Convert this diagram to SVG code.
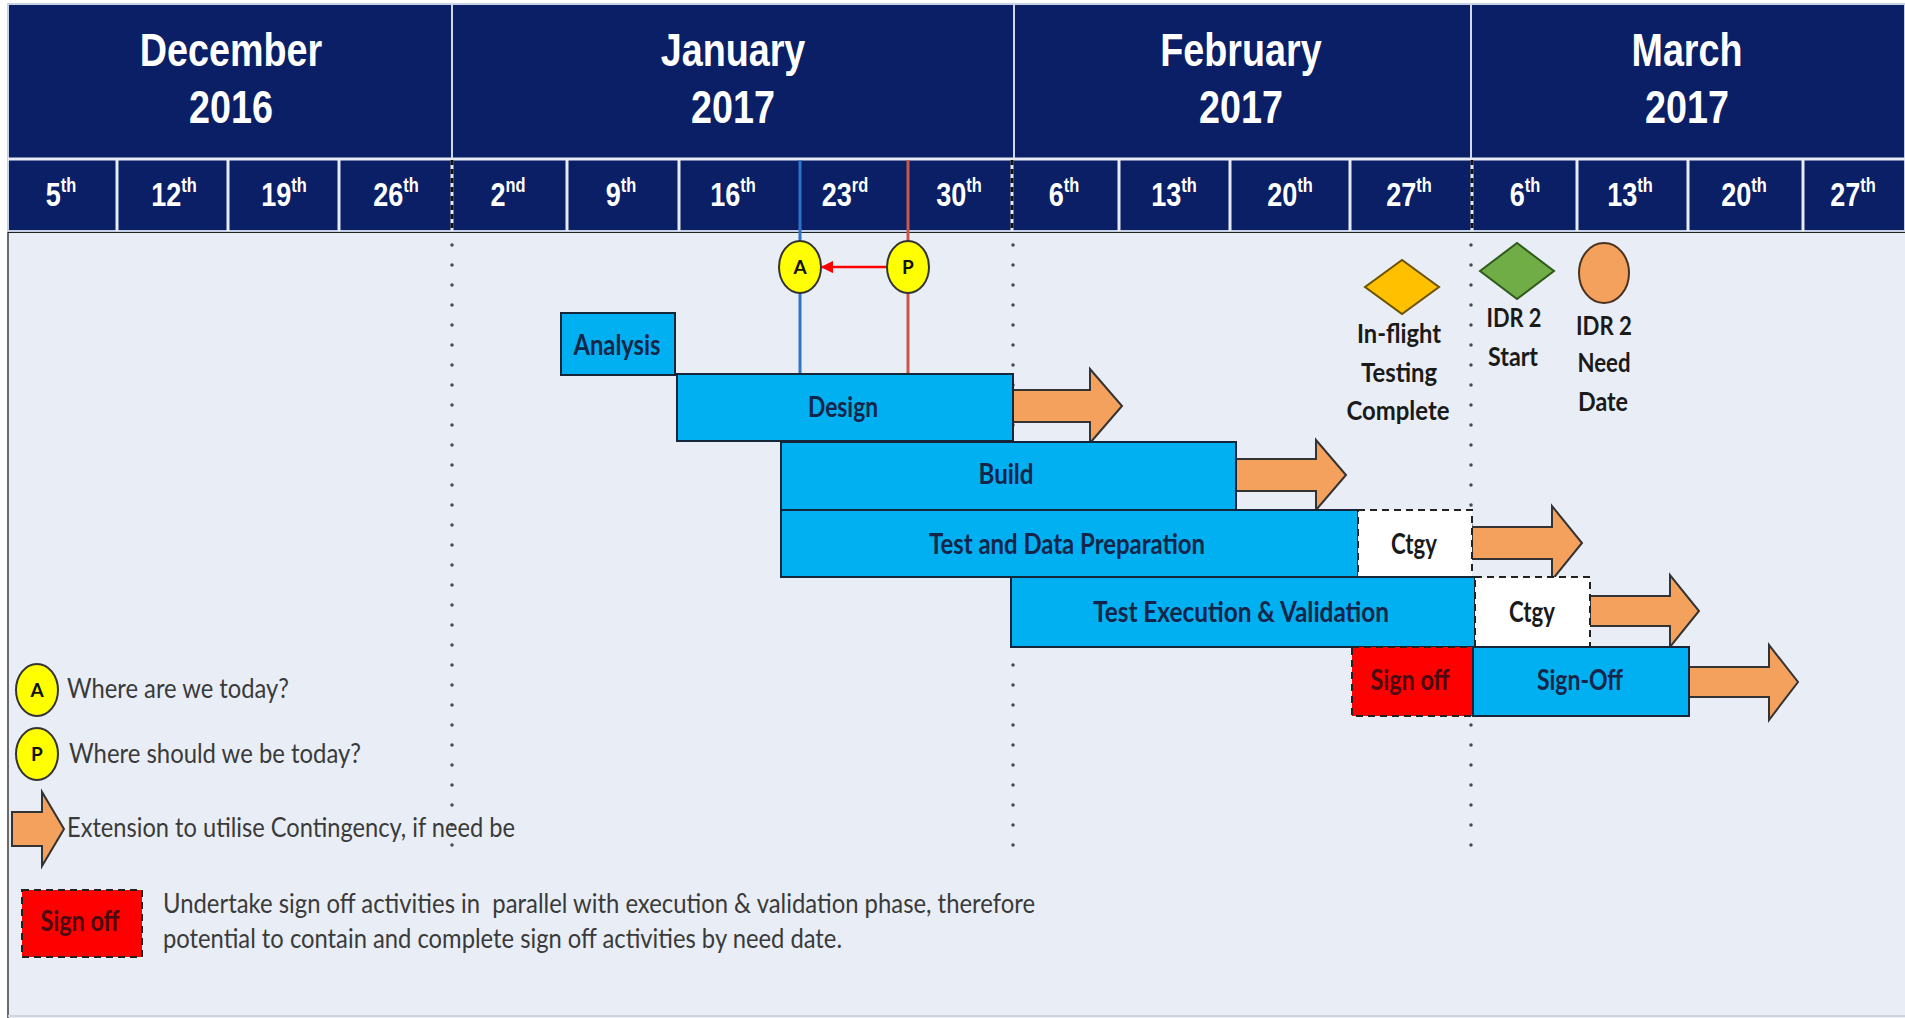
<svg xmlns="http://www.w3.org/2000/svg" width="1905" height="1018" viewBox="0 0 1905 1018">
<defs>
<style>
.hdr{fill:#0a1f66}
.mon{font-family:"Liberation Sans",Arial,sans-serif;font-weight:bold;font-size:46px;fill:#ffffff;text-anchor:middle}
.wk{font-family:"Liberation Sans",Arial,sans-serif;font-weight:bold;font-size:33px;fill:#ffffff;text-anchor:middle}
.sup{font-size:20px}
.sep{stroke:#e6ebf5;stroke-width:3}
.msep{stroke:#d0d8ea;stroke-width:2}
.wdash{stroke:#111;stroke-width:3;stroke-dasharray:5 4}
.bar{fill:#00b0f0;stroke:#16263a;stroke-width:2}
.ctgy{fill:#ffffff;stroke:#222;stroke-width:2;stroke-dasharray:7 5}
.so{fill:#ff0000;stroke:#222;stroke-width:2;stroke-dasharray:7 5}
.ext{fill:#f4a15d;stroke:#333;stroke-width:2;stroke-linejoin:miter}
.bt{font-family:Lato,"Open Sans",sans-serif;font-weight:bold;font-size:28px;fill:#13264a;text-anchor:middle}
.sot{fill:#4a0a12}
.ct{fill:#1a1a1a}
.ml{font-family:Lato,"Open Sans",sans-serif;font-weight:bold;font-size:27px;fill:#1a1a1a;text-anchor:middle}
.lg{font-family:Lato,"Open Sans",sans-serif;font-size:27px;fill:#3a3a3a;white-space:pre}
.dot{stroke:#4a4a4a;stroke-width:3.5;stroke-dasharray:0 20;stroke-linecap:round;fill:none}
.mk{fill:#ffff00;stroke:#333;stroke-width:2}
.mkt{font-family:Lato,"Open Sans",sans-serif;font-weight:bold;font-size:19px;fill:#111;text-anchor:middle}
</style>
<marker id="redhead" viewBox="0 0 10 10" refX="9" refY="5" markerWidth="5" markerHeight="5" orient="auto" markerUnits="strokeWidth">
<path d="M0,0 L10,5 L0,10 z" fill="#ff0000"/>
</marker>
</defs>

<!-- background -->
<rect x="0" y="0" width="1905" height="1018" fill="#ffffff"/>
<rect id="body" x="8" y="232" width="1897" height="786" fill="#e9eef6"/>
<line x1="8" y1="232" x2="8" y2="1018" stroke="#6a6a6a" stroke-width="2"/>
<line x1="8" y1="232" x2="1905" y2="232" stroke="#222" stroke-width="2"/>
<line x1="8" y1="1016" x2="1905" y2="1016" stroke="#cfd5df" stroke-width="2"/>

<!-- header -->
<g id="header">
<rect class="hdr" x="8" y="4" width="1897" height="227" stroke="#c8d0e4" stroke-width="2"/>
<line class="sep" x1="8" y1="159" x2="1905" y2="159"/>
<line class="msep" x1="452" y1="4" x2="452" y2="158"/>
<line class="msep" x1="1014" y1="4" x2="1014" y2="158"/>
<line class="msep" x1="1471" y1="4" x2="1471" y2="158"/>
<g id="week-dividers">
<line class="sep" x1="117" y1="160" x2="117" y2="231"/>
<line class="sep" x1="228" y1="160" x2="228" y2="231"/>
<line class="sep" x1="339" y1="160" x2="339" y2="231"/>
<line class="sep" x1="452" y1="160" x2="452" y2="231"/>
<line class="wdash" x1="452" y1="160" x2="452" y2="231"/>
<line class="sep" x1="567" y1="160" x2="567" y2="231"/>
<line class="sep" x1="679" y1="160" x2="679" y2="231"/>
<line class="sep" x1="1012" y1="160" x2="1012" y2="231"/>
<line class="wdash" x1="1012" y1="160" x2="1012" y2="231"/>
<line class="sep" x1="1119" y1="160" x2="1119" y2="231"/>
<line class="sep" x1="1230" y1="160" x2="1230" y2="231"/>
<line class="sep" x1="1350" y1="160" x2="1350" y2="231"/>
<line class="sep" x1="1472" y1="160" x2="1472" y2="231"/>
<line class="wdash" x1="1472" y1="160" x2="1472" y2="231"/>
<line class="sep" x1="1577" y1="160" x2="1577" y2="231"/>
<line class="sep" x1="1688" y1="160" x2="1688" y2="231"/>
<line class="sep" x1="1803" y1="160" x2="1803" y2="231"/>
</g>
<g id="months">
<text class="mon" transform="translate(231,66) scale(0.82,1)">December</text>
<text class="mon" transform="translate(231,123) scale(0.82,1)">2016</text>
<text class="mon" transform="translate(733,66) scale(0.82,1)">January</text>
<text class="mon" transform="translate(733,123) scale(0.82,1)">2017</text>
<text class="mon" transform="translate(1241,66) scale(0.82,1)">February</text>
<text class="mon" transform="translate(1241,123) scale(0.82,1)">2017</text>
<text class="mon" transform="translate(1687,66) scale(0.82,1)">March</text>
<text class="mon" transform="translate(1687,123) scale(0.82,1)">2017</text>
</g>
<g id="weeks">
<text class="wk" transform="translate(61,206) scale(0.82,1)">5<tspan class="sup" dy="-14">th</tspan></text>
<text class="wk" transform="translate(174,206) scale(0.82,1)">12<tspan class="sup" dy="-14">th</tspan></text>
<text class="wk" transform="translate(284,206) scale(0.82,1)">19<tspan class="sup" dy="-14">th</tspan></text>
<text class="wk" transform="translate(396,206) scale(0.82,1)">26<tspan class="sup" dy="-14">th</tspan></text>
<text class="wk" transform="translate(508,206) scale(0.82,1)">2<tspan class="sup" dy="-14">nd</tspan></text>
<text class="wk" transform="translate(621,206) scale(0.82,1)">9<tspan class="sup" dy="-14">th</tspan></text>
<text class="wk" transform="translate(733,206) scale(0.82,1)">16<tspan class="sup" dy="-14">th</tspan></text>
<text class="wk" transform="translate(845,206) scale(0.82,1)">23<tspan class="sup" dy="-14">rd</tspan></text>
<text class="wk" transform="translate(959,206) scale(0.82,1)">30<tspan class="sup" dy="-14">th</tspan></text>
<text class="wk" transform="translate(1064,206) scale(0.82,1)">6<tspan class="sup" dy="-14">th</tspan></text>
<text class="wk" transform="translate(1174,206) scale(0.82,1)">13<tspan class="sup" dy="-14">th</tspan></text>
<text class="wk" transform="translate(1290,206) scale(0.82,1)">20<tspan class="sup" dy="-14">th</tspan></text>
<text class="wk" transform="translate(1409,206) scale(0.82,1)">27<tspan class="sup" dy="-14">th</tspan></text>
<text class="wk" transform="translate(1525,206) scale(0.82,1)">6<tspan class="sup" dy="-14">th</tspan></text>
<text class="wk" transform="translate(1630,206) scale(0.82,1)">13<tspan class="sup" dy="-14">th</tspan></text>
<text class="wk" transform="translate(1744,206) scale(0.82,1)">20<tspan class="sup" dy="-14">th</tspan></text>
<text class="wk" transform="translate(1853,206) scale(0.82,1)">27<tspan class="sup" dy="-14">th</tspan></text>
</g>
</g>

<!-- month boundary dotted lines -->
<g id="month-guides">
<line class="dot" x1="452" y1="245" x2="452" y2="857"/>
<line class="dot" x1="1013" y1="245" x2="1013" y2="857"/>
<line class="dot" x1="1471" y1="245" x2="1471" y2="857"/>
</g>

<!-- connectors -->
<g id="connectors">
<line id="today-actual" x1="800" y1="160" x2="800" y2="373" stroke="#2e75c6" stroke-width="3"/>
<line id="today-plan" x1="908" y1="160" x2="908" y2="373" stroke="#c8584a" stroke-width="3"/>
<line id="p-to-a" x1="886" y1="267" x2="822" y2="267" stroke="#ff0000" stroke-width="2.5" marker-end="url(#redhead)"/>
</g>

<!-- extension arrows -->
<g id="extensions">
<polygon id="ext-design" class="ext" points="1013,390 1090,390 1090,369 1122,406 1090,443 1090,422 1013,422"/>
<polygon id="ext-build" class="ext" points="1236,459 1316,459 1316,440 1346,475 1316,510 1316,491 1236,491"/>
<polygon id="ext-tdp" class="ext" points="1472,527 1552,527 1552,506 1582,543 1552,580 1552,559 1472,559"/>
<polygon id="ext-te" class="ext" points="1590,596 1670,596 1670,575 1699,611 1670,647 1670,626 1590,626"/>
<polygon id="ext-so" class="ext" points="1689,667 1769,667 1769,645 1798,682 1769,720 1769,697 1689,697"/>
</g>

<!-- task bars -->
<g id="analysis"><rect class="bar" x="561" y="313" width="114" height="62"/><text class="bt" x="617" y="355" textLength="87" lengthAdjust="spacingAndGlyphs">Analysis</text></g>
<g id="design"><rect class="bar" x="677" y="374" width="336" height="67"/><text class="bt" x="843" y="417" textLength="70" lengthAdjust="spacingAndGlyphs">Design</text></g>
<g id="build"><rect class="bar" x="781" y="442" width="455" height="68"/><text class="bt" x="1006" y="484" textLength="55" lengthAdjust="spacingAndGlyphs">Build</text></g>
<g id="test-data-prep"><rect class="bar" x="781" y="510" width="577" height="67"/><text class="bt" x="1067" y="554" textLength="276" lengthAdjust="spacingAndGlyphs">Test and Data Preparation</text></g>
<g id="ctgy-1"><rect class="ctgy" x="1358" y="510" width="114" height="67"/><text class="bt ct" x="1414" y="554" textLength="46" lengthAdjust="spacingAndGlyphs">Ctgy</text></g>
<g id="test-exec"><rect class="bar" x="1011" y="577" width="464" height="70"/><text class="bt" x="1241" y="622" textLength="296" lengthAdjust="spacingAndGlyphs">Test Execution &amp; Validation</text></g>
<g id="ctgy-2"><rect class="ctgy" x="1475" y="577" width="115" height="70"/><text class="bt ct" x="1532" y="622" textLength="46" lengthAdjust="spacingAndGlyphs">Ctgy</text></g>
<g id="sign-off-parallel"><rect class="so" x="1352" y="647" width="121" height="69"/><text class="bt sot" x="1410" y="690" textLength="79" lengthAdjust="spacingAndGlyphs">Sign off</text></g>
<g id="sign-off"><rect class="bar" x="1473" y="647" width="216" height="69"/><text class="bt" x="1580" y="690" textLength="86" lengthAdjust="spacingAndGlyphs">Sign-Off</text></g>

<!-- today markers -->
<g id="marker-a"><ellipse class="mk" cx="800" cy="267" rx="21" ry="26"/><text class="mkt" x="800" y="274">A</text></g>
<g id="marker-p"><ellipse class="mk" cx="908" cy="267" rx="21" ry="26"/><text class="mkt" x="908" y="274">P</text></g>

<!-- milestones -->
<g id="inflight-complete">
<polygon points="1365,287 1402,260 1439,287 1402,314" fill="#ffc000" stroke="#6b5200" stroke-width="2"/>
<text class="ml" x="1399" y="343" textLength="84" lengthAdjust="spacingAndGlyphs">In-flight</text>
<text class="ml" x="1399" y="382" textLength="76" lengthAdjust="spacingAndGlyphs">Testing</text>
<text class="ml" x="1398" y="420" textLength="103" lengthAdjust="spacingAndGlyphs">Complete</text>
</g>
<g id="idr2-start">
<polygon points="1480,271 1517,243 1554,271 1517,299" fill="#70ad47" stroke="#2e5a1c" stroke-width="2"/>
<text class="ml" x="1514" y="327" textLength="55" lengthAdjust="spacingAndGlyphs">IDR 2</text>
<text class="ml" x="1513" y="366" textLength="50" lengthAdjust="spacingAndGlyphs">Start</text>
</g>
<g id="idr2-need">
<ellipse cx="1604" cy="273" rx="25" ry="30" fill="#f4a15d" stroke="#4a3220" stroke-width="2"/>
<text class="ml" x="1604" y="335" textLength="56" lengthAdjust="spacingAndGlyphs">IDR 2</text>
<text class="ml" x="1604" y="372" textLength="53" lengthAdjust="spacingAndGlyphs">Need</text>
<text class="ml" x="1603" y="411" textLength="50" lengthAdjust="spacingAndGlyphs">Date</text>
</g>

<!-- legend -->
<g id="legend-a"><ellipse class="mk" cx="37" cy="690" rx="21" ry="26"/><text class="mkt" x="37" y="697">A</text>
<text class="lg" x="67" y="698" textLength="222" lengthAdjust="spacingAndGlyphs">Where are we today?</text></g>
<g id="legend-p"><ellipse class="mk" cx="37" cy="754" rx="21" ry="26"/><text class="mkt" x="37" y="761">P</text>
<text class="lg" x="69" y="763" textLength="292" lengthAdjust="spacingAndGlyphs">Where should we be today?</text></g>
<g id="legend-ext"><polygon class="ext" points="12,812 42,812 42,792 64,829 42,866 42,846 12,846"/>
<text class="lg" x="67" y="837" textLength="448" lengthAdjust="spacingAndGlyphs">Extension to utilise Contingency, if need be</text></g>
<g id="legend-signoff"><rect class="so" x="22" y="890" width="120" height="67"/><text class="bt sot" x="80" y="931" textLength="79" lengthAdjust="spacingAndGlyphs">Sign off</text>
<text class="lg" x="163" y="913" textLength="872" lengthAdjust="spacingAndGlyphs" xml:space="preserve">Undertake sign off activities in  parallel with execution &amp; validation phase, therefore</text>
<text class="lg" x="163" y="948" textLength="679" lengthAdjust="spacingAndGlyphs">potential to contain and complete sign off activities by need date.</text></g>
</svg>
